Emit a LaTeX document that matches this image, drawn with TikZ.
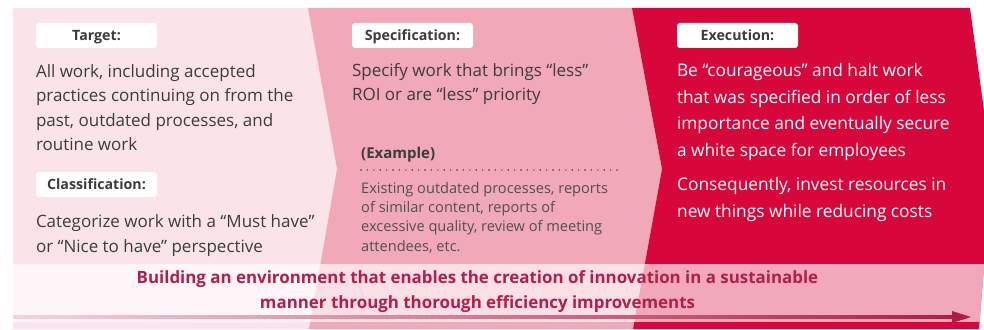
\documentclass[tikz,border=0pt]{standalone}
\usepackage{fontspec}
\setmainfont{Open Sans}
\usetikzlibrary{positioning}

\definecolor{panelone}{HTML}{FBE4E9}
\definecolor{paneltwo}{HTML}{F1A8B9}
\definecolor{panelthree}{HTML}{D7073B}
\definecolor{darktext}{HTML}{3C3C3C}
\definecolor{greytext}{HTML}{505050}
\definecolor{bandtext}{HTML}{B31E4A}
\definecolor{arrowdark}{HTML}{B11C45}
\definecolor{arrowlight}{HTML}{F6D3DB}

\tikzset{
  tag/.style={fill=white, rounded corners=3pt, minimum width=121pt,
    minimum height=25pt, inner sep=0pt, text=darktext,
    text height=10.3pt, text depth=0pt,
    font=\fontsize{14.2}{16}\selectfont\bfseries},
  body/.style={inner sep=0pt, align=left, text=darktext,
    font=\fontsize{17}{24.3}\selectfont},
  whitebody/.style={body, text=white, font=\fontsize{17.3}{26.7}\selectfont},
  smallbody/.style={body, text=greytext, font=\fontsize{14.6}{19.3}\selectfont},
  bandlabel/.style={inner sep=0pt, align=center, text=bandtext,
    font=\fontsize{16.9}{25}\selectfont\bfseries}
}

\begin{document}
\begin{tikzpicture}[x=1pt,y=-1pt]
  \useasboundingbox (0,0) rectangle (984,329);

  % --- Chevron panels ---
  \begin{scope}
    \clip (13,8) -- (970,8) -- (992,169) -- (979,329) -- (13,329) -- cycle;
    \fill[panelone] (13,8) -- (308,8) -- (337,169) -- (309,329) -- (13,329) -- cycle;
    \fill[paneltwo] (308,8) -- (632,8) -- (662,169) -- (633,329) -- (309,329)
      -- (337,169) -- cycle;
    \fill[panelthree] (632,8) -- (995,8) -- (995,329) -- (633,329) -- (662,169) -- cycle;
    % --- Bottom band ---
    \fill[white, opacity=.65] (13,264) rectangle (995,322);
  \end{scope}

  % --- Tags ---
  \node[tag] (target) at (96.5,35.5) {Target:};
  \node[tag] (spec) at (412.5,35.5) {Specification:};
  \node[tag] (exec) at (737.5,35.5) {Execution:};
  \node[tag] (class) at (96.5,184.5) {Classification:};

  % --- Texts placed relative to the tags ---
  \node[body, below=16.1pt of target.south west, anchor=north west] (targettext)
    {All work, including accepted\\practices continuing on from the\\
     past, outdated processes, and\\routine work};
  \node[body, below=17.6pt of class.south west, anchor=north west] (classtext)
    {Categorize work with a “Must have”\\or “Nice to have” perspective};
  \node[body, below=15.1pt of spec.south west, anchor=north west] (spectext)
    {Specify work that brings “less”\\ROI or are “less” priority};
  \node[whitebody, below=14.9pt of exec.south west, anchor=north west] (exectext)
    {Be “courageous” and halt work\\that was specified in order of less\\
     importance and eventually secure\\a white space for employees};
  \node[whitebody, anchor=north west] (resulttext) at (677,177.6)
    {Consequently, invest resources in\\new things while reducing costs};

  % --- Example ---
  \node[smallbody, font=\fontsize{15}{19.3}\selectfont\bfseries, text=darktext,
    anchor=north west] (example) at (361,146.6) {(Example)};
  \draw[darktext, line width=1.6pt, line cap=round, dash pattern=on 0pt off 6.4pt]
    (361,170) -- (617,170);
  \node[smallbody, anchor=north west] (exampletext) at (361,181.9)
    {Existing outdated processes, reports\\of similar content, reports of\\
     excessive quality, review of meeting\\attendees, etc.};

  % --- Band text and arrow ---
  \node[bandlabel, anchor=north] (goal) at (477.5,270.5)
    {Building an environment that enables the creation of innovation in a sustainable\\
     manner through thorough efficiency improvements};
  \coordinate (arrowstart) at (13,317);
  \coordinate (arrowend) at (971,317);
  \shade[left color=arrowlight, right color=arrowdark]
    ([yshift=-1.1pt]arrowstart) rectangle ([xshift=-16pt,yshift=1.1pt]arrowend);
  \fill[arrowdark] (arrowend) -- ++(-19,-6) -- ++(0,12) -- cycle;
\end{tikzpicture}
\end{document}
